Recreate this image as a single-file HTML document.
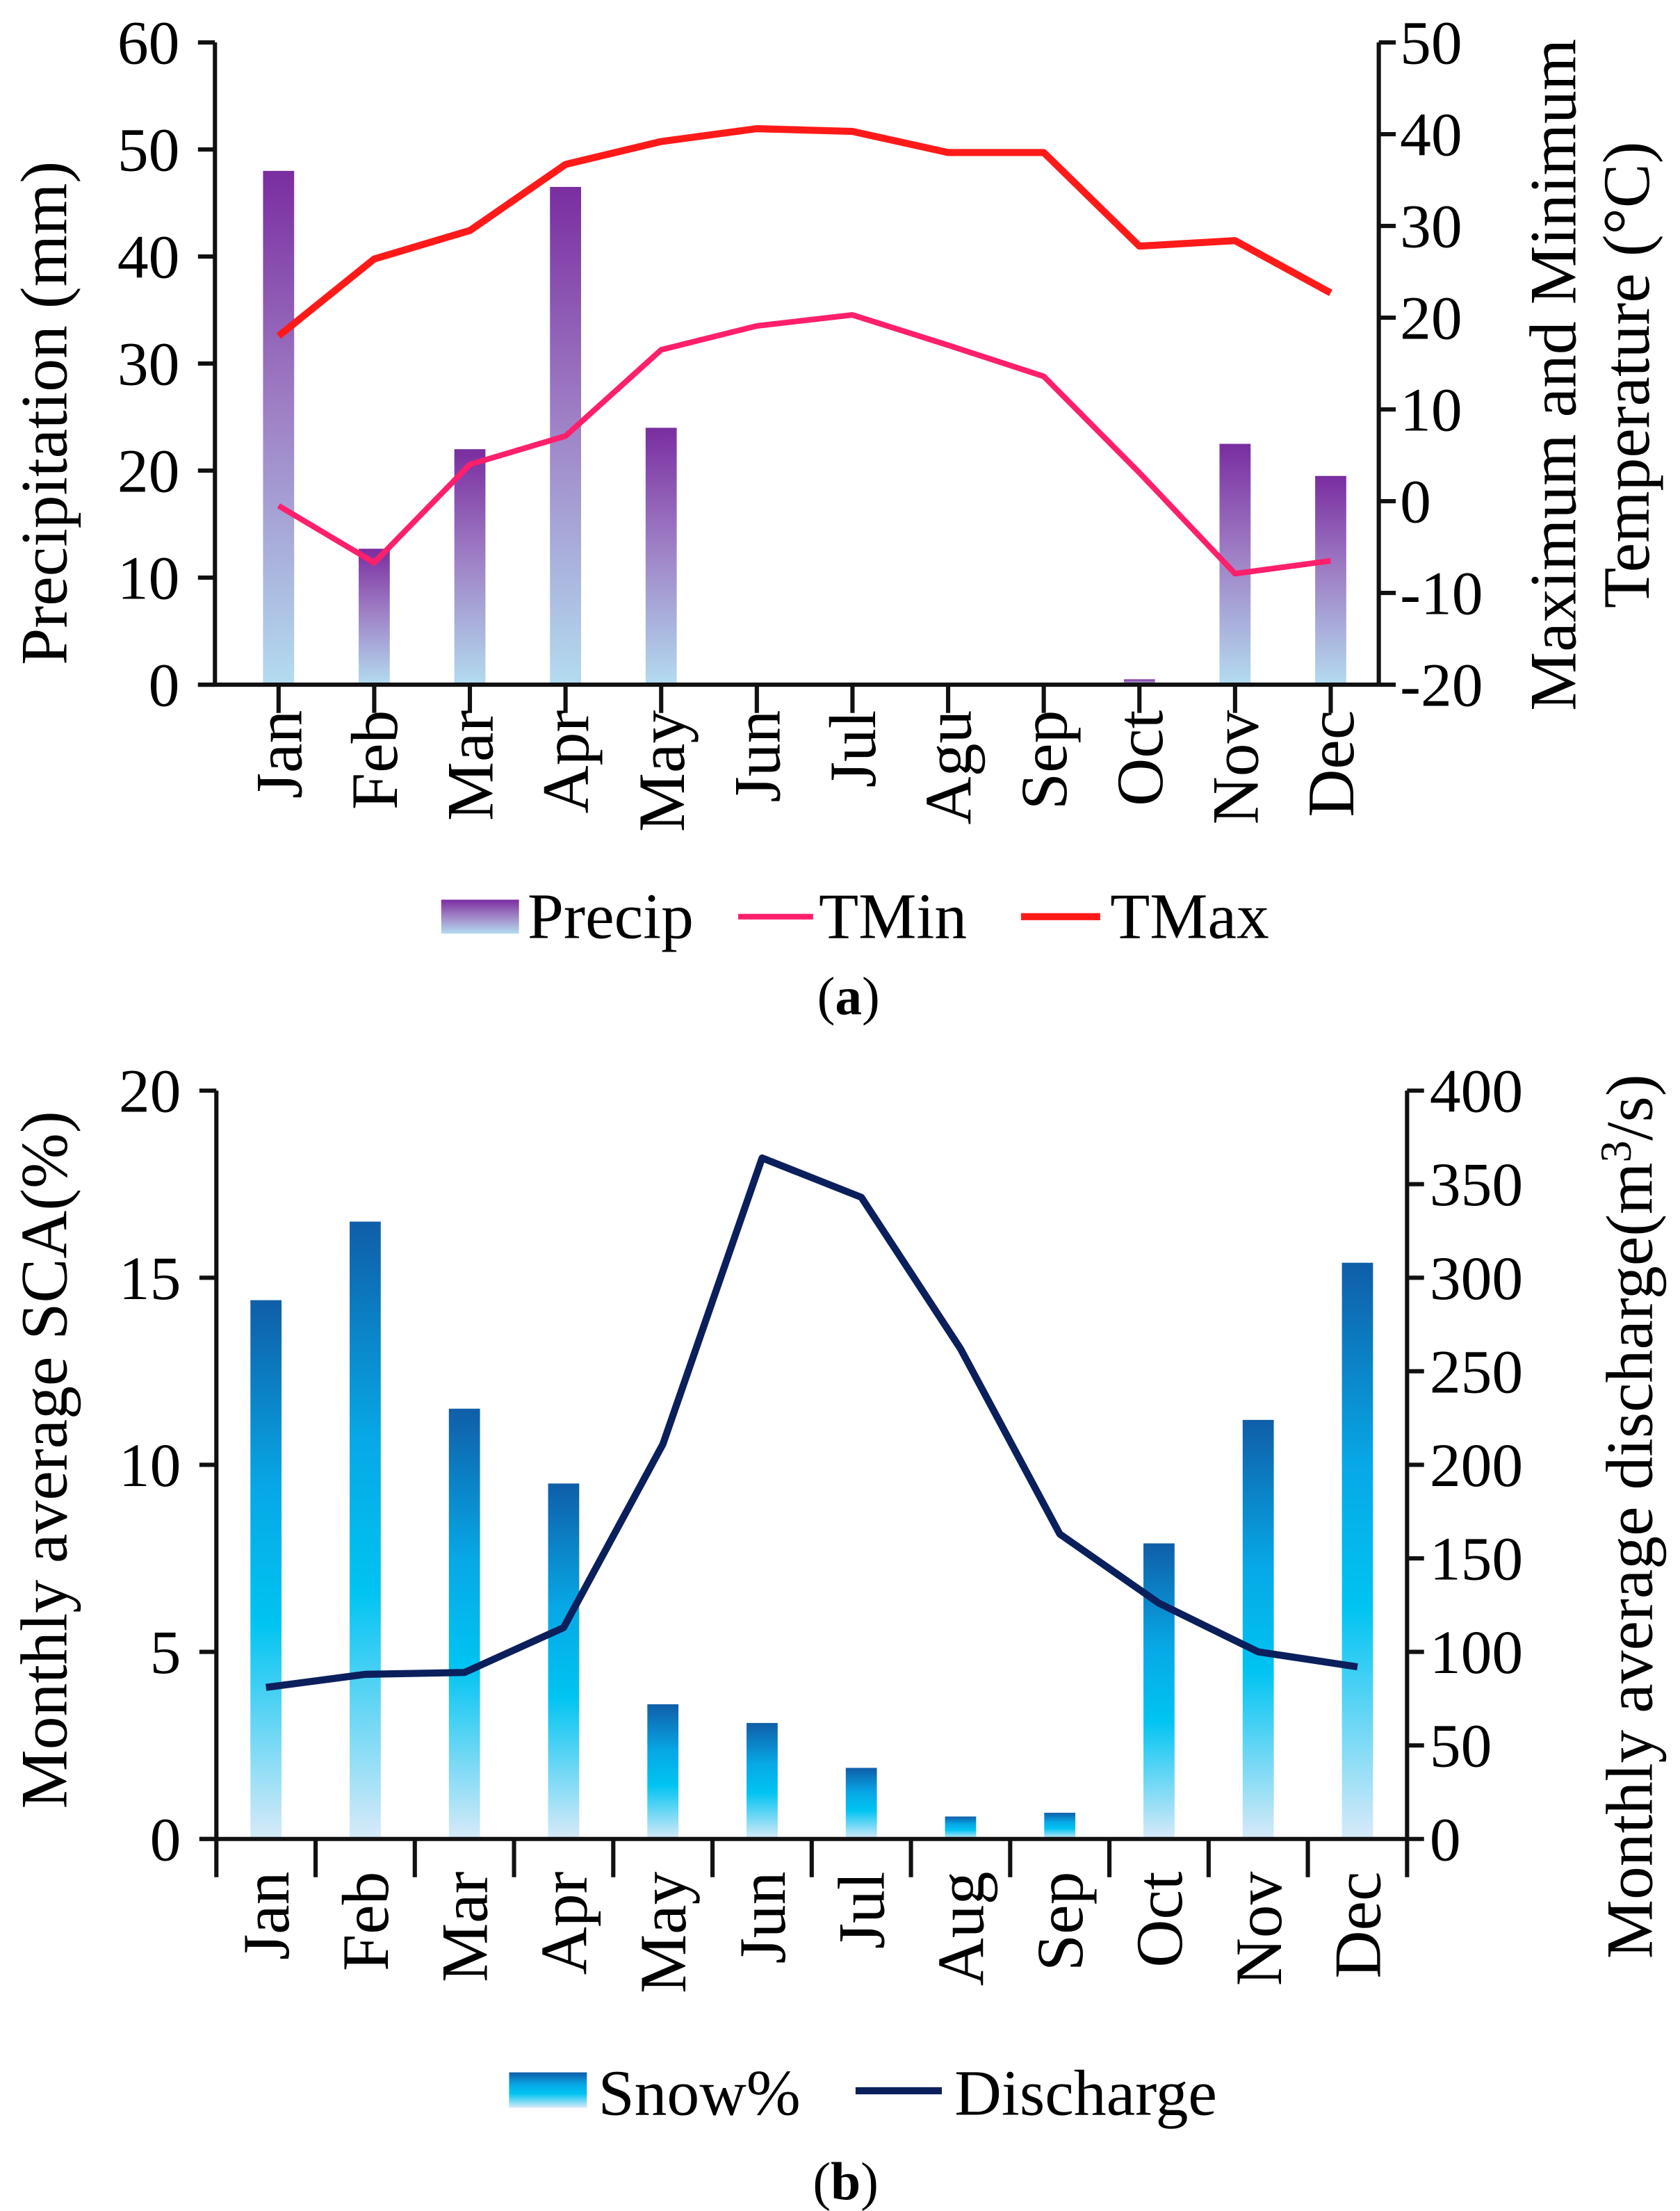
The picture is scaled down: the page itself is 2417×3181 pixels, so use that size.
<!DOCTYPE html>
<html><head><meta charset="utf-8"><style>
html,body{margin:0;padding:0;background:#fff;}
svg{display:block;font-family:"Liberation Serif",serif;}
</style></head><body>
<svg id="svg" width="2417" height="3181" viewBox="0 0 1188 1563" preserveAspectRatio="none" xmlns="http://www.w3.org/2000/svg">
<defs>
<linearGradient id="gp" x1="0" y1="0" x2="0" y2="1">
<stop offset="0" stop-color="#7a2da0"/><stop offset="0.45" stop-color="#9e7dc4"/><stop offset="1" stop-color="#b3dcf0"/></linearGradient>
<linearGradient id="gs" x1="0" y1="0" x2="0" y2="1">
<stop offset="0" stop-color="#0f5ea8"/><stop offset="0.35" stop-color="#07a8e6"/><stop offset="0.6" stop-color="#00c4f2"/><stop offset="1" stop-color="#d8eaf8"/></linearGradient>
</defs>
<g id="top"></g><g id="bot"></g>
<g font-size="46">
<rect x="312" y="636" width="55" height="24" fill="url(#gp)"/>
<text x="373" y="663">Precip</text>
<line x1="522" y1="648" x2="575" y2="648" stroke="#ff1f6a" stroke-width="4"/>
<text x="579" y="663">TMin</text>
<line x1="722" y1="648" x2="778" y2="648" stroke="#ff1a1a" stroke-width="5"/>
<text x="785" y="663">TMax</text>
<text x="600" y="717" text-anchor="middle" font-size="38">(<tspan font-weight="bold">a</tspan>)</text>
</g>
<g font-size="46">
<rect x="360" y="1465" width="55" height="25" fill="url(#gs)"/>
<text x="423" y="1495">Snow%</text>
<line x1="605" y1="1478" x2="666" y2="1478" stroke="#0b1f5c" stroke-width="5"/>
<text x="675" y="1495">Discharge</text>
<text x="598" y="1555" text-anchor="middle" font-size="38">(<tspan font-weight="bold">b</tspan>)</text>
</g>
</svg>
<script>
const months = ["Jan","Feb","Mar","Apr","May","Jun","Jul","Agu","Sep","Oct","Nov","Dec"];
const precip = [48,12.7,22,46.5,24,0,0,0,0,0.5,22.5,19.5];
const tmax = [18,26.4,29.5,36.7,39.2,40.6,40.3,38,38,27.8,28.4,22.7];
const tmin = [-0.5,-6.7,4,7.1,16.5,19.1,20.3,17,13.6,3.1,-7.9,-6.5];
const precipTicks = [0,10,20,30,40,50,60];
const tempTicks = [-20,-10,0,10,20,30,40,50];
const months2 = ["Jan","Feb","Mar","Apr","May","Jun","Jul","Aug","Sep","Oct","Nov","Dec"];
const snow = [14.4,16.5,11.5,9.5,3.6,3.1,1.9,0.6,0.7,7.9,11.2,15.4];
const discharge = [81,88,89,113,211,364,343,262,163,126,100,92];
const snowTicks = [0,5,10,15,20];
const dischargeTicks = [0,50,100,150,200,250,300,350,400];

const NS="http://www.w3.org/2000/svg";
function mk(parent,tag,attrs,text){const e=document.createElementNS(NS,tag);for(const k in attrs)e.setAttribute(k,attrs[k]);if(text!==undefined)e.textContent=text;parent.appendChild(e);return e;}
const TF=44, MF=47, AF=47;

// ---- Panel a
const A=document.getElementById('top');


const aL=152,aR=975,aT=30,aB=484;
const ax=i=>197+i*(941-197)/11;
const ayP=v=>aB-(v-0)/60*(aB-aT);
const ayT=v=>aB-(v+20)/70*(aB-aT);
precip.forEach((v,i)=>{const r=mk(A,'rect',{x:ax(i)-11,y:ayP(v),width:22,height:aB-ayP(v),fill:'url(#gp)'});

});
let l=mk(A,'line',{x1:aL-12,y1:aB,x2:aR,y2:aB,stroke:'#111','stroke-width':3});

l=mk(A,'line',{x1:aL,y1:aT,x2:aL,y2:aB,stroke:'#111','stroke-width':3});

l=mk(A,'line',{x1:aR,y1:aT,x2:aR,y2:aB,stroke:'#111','stroke-width':3});

precipTicks.forEach(v=>{const y=ayP(v);mk(A,'line',{x1:aL-12,y1:y,x2:aL,y2:y,stroke:'#111','stroke-width':3});
const t=mk(A,'text',{x:aL-25,y:y+15,'text-anchor':'end','font-size':TF},v);
});
tempTicks.forEach(v=>{const y=ayT(v);mk(A,'line',{x1:aR,y1:y,x2:aR+12,y2:y,stroke:'#111','stroke-width':3});
const t=mk(A,'text',{x:aR+15,y:y+15,'font-size':TF},v);
});
months.forEach((m,i)=>{const x=ax(i);mk(A,'line',{x1:x,y1:aB,x2:x,y2:aB+20,stroke:'#111','stroke-width':3});
const t=mk(A,'text',{transform:`translate(${x+16},${502}) rotate(-90)`,'text-anchor':'end','font-size':MF},m);
});
let p=mk(A,'polyline',{points:tmax.map((v,i)=>ax(i)+','+ayT(v)).join(' '),fill:'none',stroke:'#ff1a1a','stroke-width':5,'stroke-linejoin':'round'});

p=mk(A,'polyline',{points:tmin.map((v,i)=>ax(i)+','+ayT(v)).join(' '),fill:'none',stroke:'#ff1f6a','stroke-width':4,'stroke-linejoin':'round'});

let t=mk(A,'text',{transform:'translate(47,292) rotate(-90)','text-anchor':'middle','font-size':AF},'Precipitation (mm)');

t=mk(A,'text',{transform:'translate(1114,265) rotate(-90)','text-anchor':'middle','font-size':AF},'Maximum and Minimum');

t=mk(A,'text',{transform:'translate(1166,265) rotate(-90)','text-anchor':'middle','font-size':AF},'Temperature (°C)');


// ---- Panel b
const B=document.getElementById('bot');


const bL=153,bR=995,bT=771,bB=1300;
const bw=(bR-bL)/12;
const bx=i=>bL+bw*(i+0.5);
const byS=v=>bB-v/20*(bB-bT);
const byD=v=>bB-v/400*(bB-bT);
snow.forEach((v,i)=>{const r=mk(B,'rect',{x:bx(i)-11,y:byS(v),width:22,height:bB-byS(v),fill:'url(#gs)'});

});
l=mk(B,'line',{x1:bL-12,y1:bB,x2:bR,y2:bB,stroke:'#111','stroke-width':3});

l=mk(B,'line',{x1:bL,y1:bT,x2:bL,y2:bB,stroke:'#111','stroke-width':3});

l=mk(B,'line',{x1:bR,y1:bT,x2:bR,y2:bB,stroke:'#111','stroke-width':3});

snowTicks.forEach(v=>{const y=byS(v);mk(B,'line',{x1:bL-12,y1:y,x2:bL,y2:y,stroke:'#111','stroke-width':3});
const t=mk(B,'text',{x:bL-25,y:y+15,'text-anchor':'end','font-size':TF},v);
});
dischargeTicks.forEach(v=>{const y=byD(v);mk(B,'line',{x1:bR,y1:y,x2:bR+12,y2:y,stroke:'#111','stroke-width':3});
const t=mk(B,'text',{x:bR+16,y:y+15,'font-size':TF},v);
});
for(let i=0;i<=12;i++){const x=bL+bw*i;mk(B,'line',{x1:x,y1:bB,x2:x,y2:bB+27,stroke:'#111','stroke-width':3});}
months2.forEach((m,i)=>{const t=mk(B,'text',{transform:`translate(${bx(i)+16},${1323}) rotate(-90)`,'text-anchor':'end','font-size':MF},m);
});
p=mk(B,'polyline',{points:discharge.map((v,i)=>bx(i)+','+byD(v)).join(' '),fill:'none',stroke:'#0b1f5c','stroke-width':5,'stroke-linejoin':'round'});

t=mk(B,'text',{transform:'translate(47,1032) rotate(-90)','text-anchor':'middle','font-size':AF},'Monthly average SCA(%)');

t=mk(B,'text',{transform:'translate(1168,1072) rotate(-90)','text-anchor':'middle','font-size':AF});
t.innerHTML='Monthly average discharge(m<tspan dy="-15" font-size="31">3</tspan><tspan dy="15">/s)</tspan>';

</script>
</body></html>
